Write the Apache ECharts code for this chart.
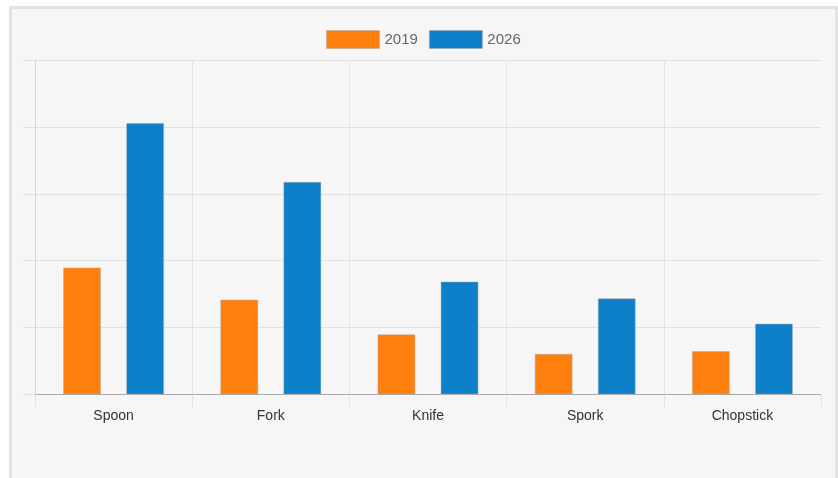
<!DOCTYPE html>
<html>
<head>
<meta charset="utf-8">
<script src="https://cdn.jsdelivr.net/npm/echarts@6/dist/echarts.min.js"></script>
<style>
  html, body { margin: 0; padding: 0; background: #fff; overflow: hidden; }
  #frame {
    position: absolute; left: 9px; top: 6px;
    width: 823px; height: 500px;
    border: 3px solid #e3e3e3;
    background: #f6f6f6;
  }
  #main { position: absolute; left: 0; top: 0; width: 838px; height: 478px; }
</style>
</head>
<body>
<div id="frame"></div>
<div id="main"></div>
<script>
// data
const categories = ['Spoon', 'Fork', 'Knife', 'Spork', 'Chopstick'];
const seriesNames = ['2019', '2026'];
const values2019 = [19.0, 14.2, 9.0, 6.1, 6.5];
const values2026 = [40.6, 31.8, 16.9, 14.4, 10.6];
const colors = ['#ff7f0e', '#0e7fc9'];

const fontFamily = '"Liberation Sans", Arial, sans-serif';
const myChart = echarts.init(document.getElementById('main'), null, { renderer: 'canvas' });

myChart.setOption({
  backgroundColor: 'transparent',
  animation: false,
  textStyle: { fontFamily: fontFamily },
  legend: {
    data: seriesNames,
    left: 326,
    top: 30,
    padding: 0,
    itemWidth: 53,
    itemHeight: 18,
    itemGap: 11,
    icon: 'rect',
    textStyle: { color: '#666', fontSize: 15, fontFamily: fontFamily },
    itemStyle: { borderColor: 'rgba(170,170,170,0.5)', borderWidth: 1 }
  },
  grid: {
    left: 35,
    right: 17,
    top: 60,
    bottom: 83.5,
    containLabel: false
  },
  xAxis: {
    type: 'category',
    data: categories,
    axisLine: { lineStyle: { color: '#aaa', width: 1 } },
    axisTick: { show: true, length: 12, lineStyle: { color: '#e2e2e2' } },
    axisLabel: { color: '#333', fontSize: 14, margin: 15, fontFamily: fontFamily },
    splitLine: { show: true, showMinLine: false, showMaxLine: false, lineStyle: { color: '#e6e6e6' } }
  },
  yAxis: {
    type: 'value',
    min: 0,
    max: 50,
    interval: 10,
    axisLine: { show: true, lineStyle: { color: '#d4d4d4' } },
    axisTick: { show: true, length: 12, lineStyle: { color: '#e2e2e2' } },
    axisLabel: { show: false },
    splitLine: { lineStyle: { color: '#e2e2e2' } }
  },
  series: [
    {
      name: seriesNames[0],
      type: 'bar',
      data: values2019,
      barWidth: 38,
      barGap: '66%',
      itemStyle: { color: colors[0], borderColor: 'rgba(170,170,170,0.45)', borderWidth: 1 }
    },
    {
      name: seriesNames[1],
      type: 'bar',
      data: values2026,
      barWidth: 38,
      barGap: '66%',
      itemStyle: { color: colors[1], borderColor: 'rgba(170,170,170,0.45)', borderWidth: 1 }
    }
  ]
});
</script>
</body>
</html>
